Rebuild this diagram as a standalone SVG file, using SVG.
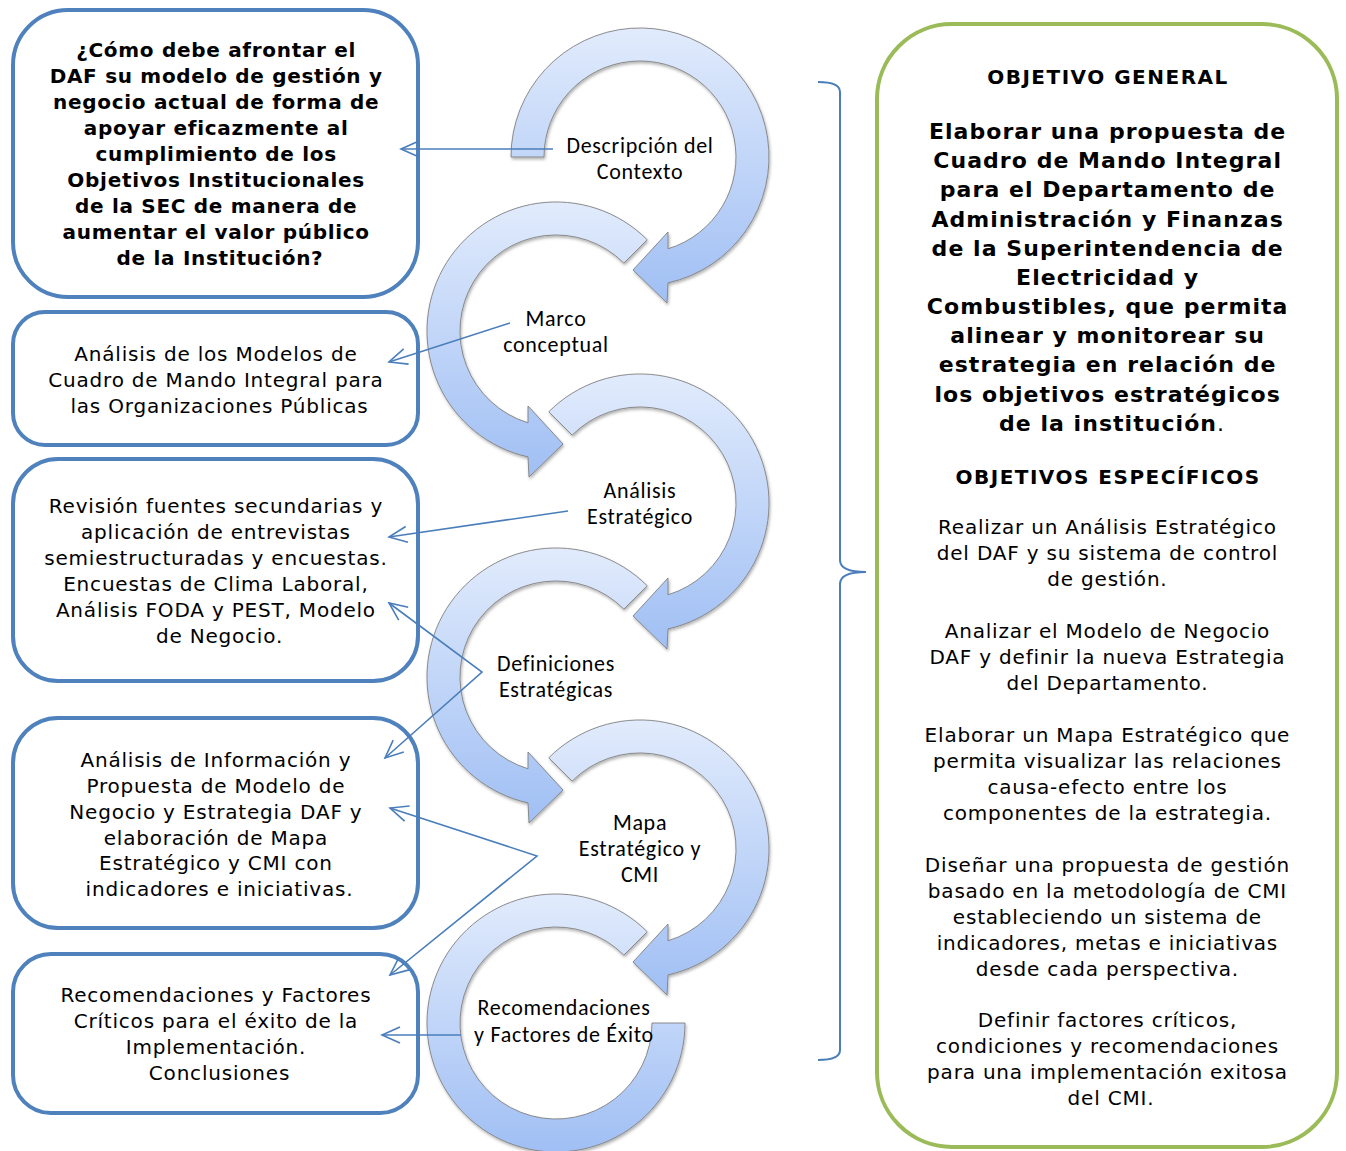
<svg xmlns="http://www.w3.org/2000/svg" width="1346" height="1151" viewBox="0 0 1346 1151">
<style>
.box{fill:#fff;stroke:#4F81BD;stroke-width:4}
.gbox{fill:#fff;stroke:#9BBB59;stroke-width:4}
.t{font-family:"DejaVu Sans",Verdana,sans-serif;font-size:20px;letter-spacing:0.8px;fill:#000;text-anchor:middle}
.b{font-weight:bold;letter-spacing:0.7px}
.h{font-weight:bold;letter-spacing:1.5px}
.big{font-weight:bold;font-size:22px;letter-spacing:1.05px}
.arc{fill:url(#grad);stroke:#808080;stroke-width:0.9;filter:url(#sh)}
.lbl{font-family:Carlito,Calibri,Lato,"Liberation Sans",sans-serif;font-size:22px;letter-spacing:0.7px;fill:#000;text-anchor:middle}
.con{fill:none;stroke:#4A7EBB;stroke-width:1.6;marker-end:url(#ah)}
.con2{fill:none;stroke:#4A7EBB;stroke-width:1.6;marker-start:url(#ah);marker-end:url(#ah)}
</style>
<defs>
<linearGradient id="grad" x1="0" y1="0" x2="0" y2="1">
<stop offset="0" stop-color="#e1ebfc"/>
<stop offset="1" stop-color="#a0bff4"/>
</linearGradient>
<filter id="sh" x="-10%" y="-10%" width="120%" height="120%">
<feDropShadow dx="1" dy="2" stdDeviation="1.5" flood-color="#000" flood-opacity="0.3"/>
</filter>
<marker id="ah" markerUnits="userSpaceOnUse" viewBox="-20 -10 22 20" refX="0" refY="0" markerWidth="22" markerHeight="20" orient="auto-start-reverse">
<path d="M-18,-8 L0,0 L-18,8" fill="none" stroke="#4A7EBB" stroke-width="1.6"/>
</marker>
</defs>
<rect width="1346" height="1151" fill="#fff"/>

<g id="cycle">
<path id="arrow1" class="arc" d="M 511 157 A 129 129 0 1 1 668 282.9 L 667 303 L 633 270 L 668 232 L 668 248.8 A 96 96 0 1 0 544 157 Z"/>
<path id="arrow2" class="arc" d="M 647.22 239.78 A 129 129 0 1 0 528 456.9 L 529 477 L 563 444 L 528 406 L 528 422.8 A 96 96 0 1 1 623.88 263.12 Z"/>
<path id="arrow3" class="arc" d="M 548.78 411.78 A 129 129 0 1 1 668 628.9 L 667 649 L 633 616 L 668 578 L 668 594.8 A 96 96 0 1 0 572.12 435.12 Z"/>
<path id="arrow4" class="arc" d="M 647.22 585.78 A 129 129 0 1 0 528 802.9 L 529 823 L 563 790 L 528 752 L 528 768.8 A 96 96 0 1 1 623.88 609.12 Z"/>
<path id="arrow5" class="arc" d="M 548.78 757.78 A 129 129 0 1 1 668 974.9 L 667 995 L 633 962 L 668 924 L 668 940.8 A 96 96 0 1 0 572.12 781.12 Z"/>
<path id="arrow6" class="arc" d="M 647.22 931.78 A 129 129 0 1 0 685 1023 L 652 1023 A 96 96 0 1 1 623.88 955.12 Z"/>
</g>

<g id="step1"><text class="lbl" x="640" y="153">Descripción del</text><text class="lbl" x="640" y="179">Contexto</text></g>
<g id="step2"><text class="lbl" x="556" y="326">Marco</text><text class="lbl" x="556" y="352">conceptual</text></g>
<g id="step3"><text class="lbl" x="640" y="498">Análisis</text><text class="lbl" x="640" y="524">Estratégico</text></g>
<g id="step4"><text class="lbl" x="556" y="671">Definiciones</text><text class="lbl" x="556" y="697">Estratégicas</text></g>
<g id="step5"><text class="lbl" x="640" y="830">Mapa</text><text class="lbl" x="640" y="856">Estratégico y</text><text class="lbl" x="640" y="882">CMI</text></g>
<g id="step6"><text class="lbl" x="564" y="1015">Recomendaciones</text><text class="lbl" x="564" y="1042">y Factores de Éxito</text></g>

<g id="box1">
<rect class="box" x="13" y="10" width="405" height="287" rx="55"/>
<text class="t b">
<tspan x="220" y="57">¿Cómo debe afrontar el</tspan>
<tspan x="220" y="83">DAF su modelo de gestión y</tspan>
<tspan x="220" y="109">negocio actual de forma de</tspan>
<tspan x="220" y="135">apoyar eficazmente al</tspan>
<tspan x="220" y="161">cumplimiento de los</tspan>
<tspan x="220" y="187">Objetivos Institucionales</tspan>
<tspan x="220" y="213">de la SEC de manera de</tspan>
<tspan x="220" y="239">aumentar el valor público</tspan>
<tspan x="220" y="265">de la Institución?</tspan>
</text>
</g>

<g id="box2">
<rect class="box" x="13" y="312" width="405" height="133" rx="32"/>
<text class="t">
<tspan x="219.5" y="361">Análisis de los Modelos de</tspan>
<tspan x="219.5" y="387">Cuadro de Mando Integral para</tspan>
<tspan x="219.5" y="413">las Organizaciones Públicas</tspan>
</text>
</g>

<g id="box3">
<rect class="box" x="13" y="459" width="405" height="222" rx="45"/>
<text class="t">
<tspan x="219.5" y="513">Revisión fuentes secundarias y</tspan>
<tspan x="219.5" y="539">aplicación de entrevistas</tspan>
<tspan x="219.5" y="565">semiestructuradas y encuestas.</tspan>
<tspan x="219.5" y="591">Encuestas de Clima Laboral,</tspan>
<tspan x="219.5" y="617">Análisis FODA y PEST, Modelo</tspan>
<tspan x="219.5" y="643">de Negocio.</tspan>
</text>
</g>

<g id="box4">
<rect class="box" x="13" y="718" width="405" height="210" rx="45"/>
<text class="t">
<tspan x="219.5" y="767">Análisis de Información y</tspan>
<tspan x="219.5" y="793">Propuesta de Modelo de</tspan>
<tspan x="219.5" y="819">Negocio y Estrategia DAF y</tspan>
<tspan x="219.5" y="845">elaboración de Mapa</tspan>
<tspan x="219.5" y="870">Estratégico y CMI con</tspan>
<tspan x="219.5" y="896">indicadores e iniciativas.</tspan>
</text>
</g>

<g id="box5">
<rect class="box" x="13" y="954" width="405" height="159" rx="38"/>
<text class="t">
<tspan x="219.5" y="1002">Recomendaciones y Factores</tspan>
<tspan x="219.5" y="1028">Críticos para el éxito de la</tspan>
<tspan x="219.5" y="1054">Implementación.</tspan>
<tspan x="219.5" y="1080">Conclusiones</tspan>
</text>
</g>

<g id="objectives">
<rect class="gbox" x="877" y="24" width="460" height="1123" rx="75"/>
<text class="t h" x="1108" y="84">OBJETIVO GENERAL</text>
<text class="t big">
<tspan x="1112" y="139">Elaborar una propuesta de</tspan>
<tspan x="1112" y="168">Cuadro de Mando Integral</tspan>
<tspan x="1112" y="197">para el Departamento de</tspan>
<tspan x="1112" y="227">Administración y Finanzas</tspan>
<tspan x="1112" y="256">de la Superintendencia de</tspan>
<tspan x="1112" y="285">Electricidad y</tspan>
<tspan x="1112" y="314">Combustibles, que permita</tspan>
<tspan x="1112" y="343">alinear y monitorear su</tspan>
<tspan x="1112" y="372">estrategia en relación de</tspan>
<tspan x="1112" y="402">los objetivos estratégicos</tspan>
<tspan x="1112" y="431">de la institución<tspan font-weight="normal">.</tspan></tspan>
</text>
<text class="t h" x="1108" y="484">OBJETIVOS ESPECÍFICOS</text>
<text class="t">
<tspan x="1111" y="534">Realizar un Análisis Estratégico</tspan>
<tspan x="1111" y="560">del DAF y su sistema de control</tspan>
<tspan x="1111" y="586">de gestión.</tspan>
<tspan x="1111" y="638">Analizar el Modelo de Negocio</tspan>
<tspan x="1111" y="664">DAF y definir la nueva Estrategia</tspan>
<tspan x="1111" y="690">del Departamento.</tspan>
<tspan x="1111" y="742">Elaborar un Mapa Estratégico que</tspan>
<tspan x="1111" y="768">permita visualizar las relaciones</tspan>
<tspan x="1111" y="794">causa-efecto entre los</tspan>
<tspan x="1111" y="820">componentes de la estrategia.</tspan>
<tspan x="1111" y="872">Diseñar una propuesta de gestión</tspan>
<tspan x="1111" y="898">basado en la metodología de CMI</tspan>
<tspan x="1111" y="924">estableciendo un sistema de</tspan>
<tspan x="1111" y="950">indicadores, metas e iniciativas</tspan>
<tspan x="1111" y="976">desde cada perspectiva.</tspan>
<tspan x="1111" y="1027">Definir factores críticos,</tspan>
<tspan x="1111" y="1053">condiciones y recomendaciones</tspan>
<tspan x="1111" y="1079">para una implementación exitosa</tspan>
<tspan x="1111" y="1105">del CMI.</tspan>
</text>
</g>

<g id="connectors">
<path class="con" d="M553,149 L401,149"/>
<path class="con" d="M510,323 L389,362"/>
<path class="con" d="M568,511 L389,537"/>
<path class="con2" d="M389,603 L482,672 L385,758"/>
<path class="con2" d="M390,808 L537,856 L390,975"/>
<path class="con" d="M461,1035 L382,1035"/>
<path id="brace" d="M818,82 Q840,82 840,92 L840,560 Q840,572 866,572 Q840,572 840,584 L840,1050 Q840,1060 818,1060" fill="none" stroke="#4A7EBB" stroke-width="2"/>
</g>
</svg>
